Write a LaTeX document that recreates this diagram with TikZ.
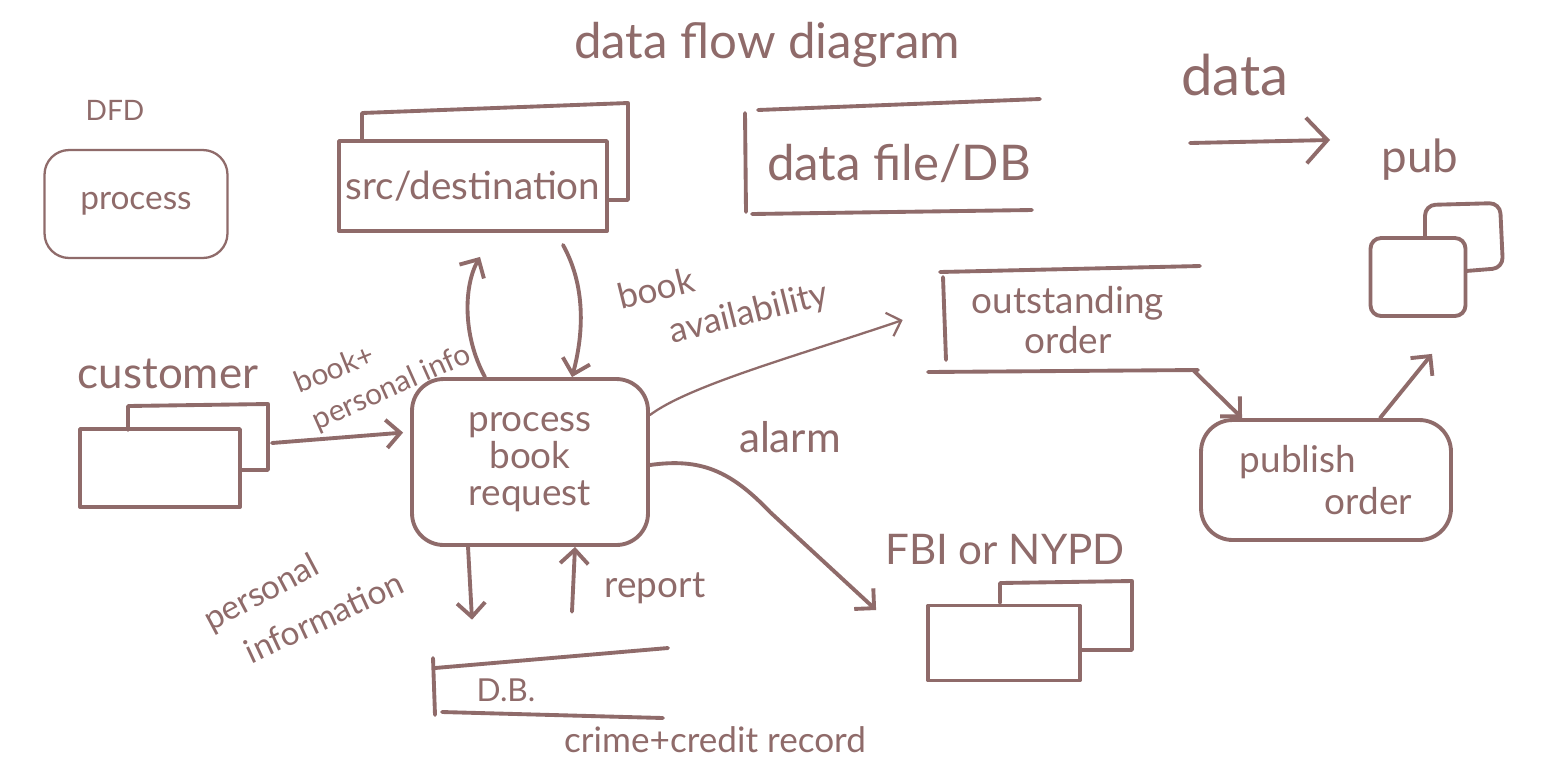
\documentclass[tikz,border=0pt]{standalone}
\usepackage{fontspec}
\setmainfont{Lato}
\usetikzlibrary{arrows.meta}
\definecolor{ink}{RGB}{143,107,106}
\newcommand\myfs[2]{\fontsize{#1}{#2}\selectfont}
\begin{document}
\begin{tikzpicture}[x=0.02cm,y=-0.02cm,
  ln/.style={draw=ink,line width=2.2pt,line cap=round,line join=round},
  thinln/.style={draw=ink,line width=1.3pt,line cap=round,line join=round},
  arr/.style={ln,-{Straight Barb[length=8pt,width=16pt]}},
  thinarr/.style={thinln,-{Straight Barb[length=7pt,width=14pt]}},
  txt/.style={text=ink,inner sep=0pt,align=center},
  ent/.style={ln,rectangle,inner sep=0pt},
  rbox/.style={ln,rectangle,rounded corners=18pt,inner sep=0pt,text=ink,align=center}]
\useasboundingbox (0,0) rectangle (1554,762);
\fill[white] (0,0) rectangle (1554,762);

% titles / legend
\node[txt,font=\myfs{28}{32}] (title) at (767,45) {data flow diagram};
\node[txt,font=\myfs{16}{18}] (dfd) at (115,110) {DFD};
\node[thinln,rectangle,rounded corners=14pt,minimum width=3.66cm,minimum height=2.16cm,text=ink,font=\myfs{19}{22}] (procL) at (136,204) {process};

% src/destination legend
\draw[ln] (362,141) -- (362,113) -- (628,103) -- (628,200) -- (608,200);
\node[ent,minimum width=5.36cm,minimum height=1.8cm,text=ink,font=\myfs{22}{26}] (srcF) at (473,186) {src/destination};

% data file legend
\node[txt,font=\myfs{28}{32}] (dbtxt) at (899,163) {data file/DB};
\draw[ln] (758,110) -- (1040,99);
\draw[ln] (745,113) -- (746,212);
\draw[ln] (752,214) -- (1032,210);

% data arrow legend
\node[txt,font=\myfs{32}{36}] (datatxt) at (1235,75) {data};
\coordinate (dA) at (1190,143);
\coordinate (dB) at (1330,140);
\draw[ln,-{Straight Barb[length=12pt,width=26pt]}] (dA) -- (dB);

% pub entity
\node[txt,font=\myfs{26}{30}] (pubtxt) at (1420,160) {pub};
\draw[ln,rounded corners=6pt] (1425,238) -- (1425,205) -- (1500,203) -- (1503,268) -- (1466,271);
\node[ent,rounded corners=6pt,minimum width=1.9cm,minimum height=1.56cm] (pubF) at (1418,277) {};

% customer entity
\node[txt,font=\myfs{25}{28}] (custtxt) at (168,374) {customer};
\draw[ln] (128,430) -- (128,406) -- (268,404) -- (268,470) -- (240,470);
\node[ent,minimum width=3.2cm,minimum height=1.56cm] (custF) at (160,468) {};
\coordinate (custOut) at (272,443);

% main process
\node[rbox,minimum width=4.72cm,minimum height=3.32cm,font=\myfs{21}{21}] (procB) at (530,462) {process\\book\\request};

% outstanding order store
\node[txt,minimum width=5cm,minimum height=2cm,font=\myfs{21}{23}] (ost) at (1068,320) {outstanding\\order};
\draw[ln] (940,272) -- (1200,266);
\draw[ln] (943,277) -- (946,360);
\draw[ln] (928,372) -- (1198,370);

% publish order process
\node[rbox,minimum width=5cm,minimum height=2.4cm,align=left,font=\myfs{21}{24}] (pubOrd) at (1326,480) {publish\\\hspace*{1.7cm}order};

% FBI entity
\node[txt,font=\myfs{24}{28}] (fbitxt) at (1005,550) {FBI or NYPD};
\draw[ln] (1000,603) -- (1000,583) -- (1132,581) -- (1132,650) -- (1080,650);
\node[ent,minimum width=3.04cm,minimum height=1.5cm] (fbiF) at (1004,643) {};

% D.B. store
\node[txt,minimum width=4.6cm,minimum height=1.2cm] (dbS) at (550,685) {};
\node[txt,font=\myfs{18}{20}] (dbtext) at (506,690) {D.B.};
\draw[ln] (435,668) -- (668,648);
\draw[ln] (433,658) -- (435,715);
\draw[ln] (442,712) -- (663,718);
\node[txt,font=\myfs{20}{22}] (crime) at (715,740) {crime+credit record};

% labels
\node[txt,rotate=22,font=\myfs{17}{19}] (lblBook1) at (334,368) {book+};
\node[txt,rotate=24,font=\myfs{17}{19}] (lblBook2) at (392,388) {personal info};
\node[txt,rotate=14,font=\myfs{20}{22}] (lblAvail1) at (656,288) {book};
\node[txt,rotate=14,font=\myfs{20}{22}] (lblAvail2) at (749,314) {availability};
\node[txt,font=\myfs{24}{28}] (lblAlarm) at (790,437) {alarm};
\node[txt,rotate=28,font=\myfs{19}{21}] (lblPers1) at (262,594) {personal};
\node[txt,rotate=25,font=\myfs{19}{21}] (lblPers2) at (324,617) {information};
\node[txt,font=\myfs{21}{24}] (lblReport) at (655,588) {report};

% connectors
\draw[arr,shorten >=4pt] (custOut) -- ([yshift=0.6cm]procB.west);
\draw[arr] ([xshift=-0.9cm]procB.north) .. controls (462,335) and (464,285) .. ([xshift=0.14cm,yshift=-0.48cm]srcF.south);
\draw[arr] ([xshift=1.8cm,yshift=-0.24cm]srcF.south) .. controls (588,290) and (582,340) .. ([xshift=0.84cm]procB.north);
\draw[thinarr] ([yshift=0.94cm]procB.east) .. controls (690,385) and (800,355) .. ([xshift=-0.8cm]ost.west);
\draw[arr] (ost.south east) -- ([xshift=-1.68cm]pubOrd.north);
\draw[arr] ([xshift=1.08cm]pubOrd.north) -- ([xshift=0.28cm,yshift=-0.72cm]pubF.south);
\draw[arr] ([yshift=-0.06cm]procB.east) .. controls (700,458) and (730,470) .. (770,512) -- ([xshift=-1.0cm,yshift=0.66cm]fbiF.west);
\draw[arr] ([xshift=-1.24cm]procB.south) -- ([xshift=-1.56cm,yshift=0.7cm]dbS.north);
\draw[arr] ([xshift=0.44cm,yshift=0.86cm]dbS.north) -- ([xshift=0.9cm]procB.south);
\end{tikzpicture}
\end{document}
